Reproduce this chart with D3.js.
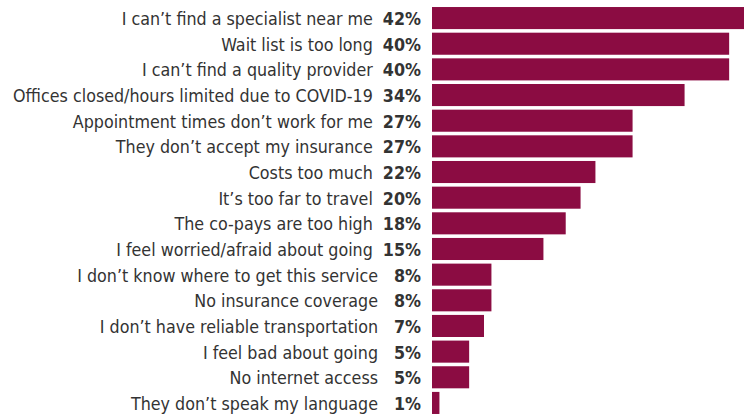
<!DOCTYPE html>
<html>
<head>
<meta charset="utf-8">
<script src="https://cdn.jsdelivr.net/npm/d3@7"></script>
<style>
  html, body { margin: 0; padding: 0; background: #fff; }
  svg text { font-family: "DejaVu Sans Condensed", "Liberation Sans Narrow", "Roboto", sans-serif; fill: #333; }
</style>
</head>
<body>
<svg id="chart" width="751" height="416"></svg>
<script>
// Reasons for not getting care, share of respondents (%)
const reasons = [
  "I can’t find a specialist near me",
  "Wait list is too long",
  "I can’t find a quality provider",
  "Offices closed/hours limited due to COVID-19",
  "Appointment times don’t work for me",
  "They don’t accept my insurance",
  "Costs too much",
  "It’s too far to travel",
  "The co-pays are too high",
  "I feel worried/afraid about going",
  "I don’t know where to get this service",
  "No insurance coverage",
  "I don’t have reliable transportation",
  "I feel bad about going",
  "No internet access",
  "They don’t speak my language"
];
const percents = [42, 40, 40, 34, 27, 27, 22, 20, 18, 15, 8, 8, 7, 5, 5, 1];

const svg = d3.select("#chart");
const barColor = "#8b0c42";
const barLeft = 432, barRight = 744;
const pctRight = 421;
const squeeze = 0.958;   // narrow the type horizontally
const fontSize = "18.5px";

const x = d3.scaleLinear().domain([0, 42]).range([barLeft, barRight]);
const y = d3.scaleBand().domain(reasons).range([6, 415]).paddingInner(0.14).paddingOuter(0.04);

const rows = svg.selectAll("g.row")
  .data(reasons.map((r, i) => ({ reason: r, value: percents[i] })))
  .join("g")
  .attr("class", "row");

rows.append("rect")
  .attr("x", x(0))
  .attr("y", d => y(d.reason))
  .attr("width", d => x(d.value) - x(0))
  .attr("height", y.bandwidth())
  .attr("fill", barColor);

const baseline = d => y(d.reason) + y.bandwidth() / 2 + 7;

const pct = rows.append("g")
  .attr("transform", d => `translate(${pctRight},${baseline(d)}) scale(${squeeze},1)`)
  .append("text")
  .attr("text-anchor", "end")
  .style("font-size", fontSize)
  .style("font-weight", "bold")
  .text(d => d.value + "%");

const pctNodes = pct.nodes();

rows.append("g")
  .attr("transform", (d, i) => {
    const w = pctNodes[i].getComputedTextLength() * squeeze;
    const xEnd = Math.min(378, pctRight - w - 10);
    return `translate(${xEnd},${baseline(d)}) scale(${squeeze},1)`;
  })
  .append("text")
  .attr("text-anchor", "end")
  .style("font-size", fontSize)
  .text(d => d.reason);
</script>
</body>
</html>
